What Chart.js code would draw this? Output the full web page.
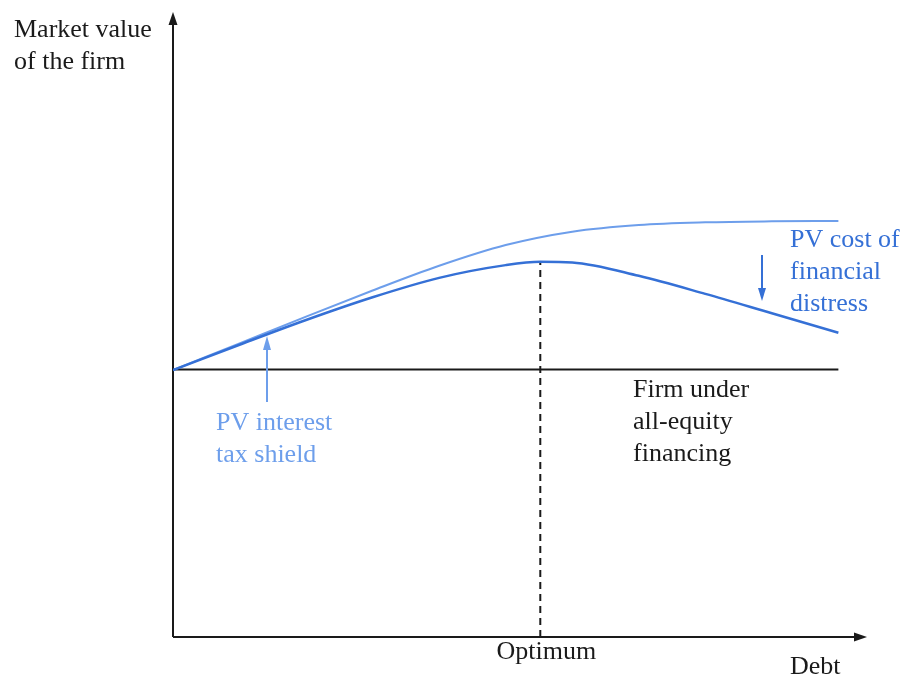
<!DOCTYPE html>
<html>
<head>
<meta charset="utf-8">
<script src="https://cdn.jsdelivr.net/npm/chart.js@4/dist/chart.umd.min.js"></script>
<style>
  html, body { margin: 0; padding: 0; background: #ffffff; }
  #wrap { width: 906px; height: 679px; }
</style>
</head>
<body>
<div id="wrap"><canvas id="c" width="906" height="679"></canvas></div>
<script>
// ---- data (Debt on x, Market value of the firm on y, abstract units) ----
const debtMax = 10.4;
const valueMax = 9.3;
const allEquityValue = 4.0;
const optimumDebt = 5.52;

const leveredNoCostX = [0, 1, 2, 3, 4, 5, 6, 7, 8, 9, 10];
const leveredNoCostY = [3.99, 4.39, 4.79, 5.18, 5.55, 5.86, 6.06, 6.16, 6.20, 6.215, 6.22];

const leveredX = [0, 1, 2, 3, 4, 5, 5.52, 6, 7, 8, 9, 10];
const leveredY = [3.99, 4.37, 4.74, 5.08, 5.37, 5.56, 5.61, 5.60, 5.40, 5.13, 4.84, 4.55];

const allEquityX = [0, 10.0];

const labels = {
  yTitle: ["Market value", "of the firm"],
  xTitle: "Debt",
  optimum: "Optimum",
  taxShield: ["PV interest", "tax shield"],
  distress: ["PV cost of", "financial", "distress"],
  allEquity: ["Firm under", "all-equity", "financing"]
};

const LIGHT = '#6d9eeb';
const DARK = '#3570d6';
const INK = '#1a1a1a';

const pts = (xs, ys) => xs.map((x, i) => ({ x: x, y: ys[i] }));

function arrowHead(ctx, x, y, dir, len, half, color) {
  ctx.save();
  ctx.fillStyle = color;
  ctx.beginPath();
  if (dir === 'up') { ctx.moveTo(x, y); ctx.lineTo(x - half, y + len); ctx.lineTo(x + half, y + len); }
  else if (dir === 'down') { ctx.moveTo(x, y); ctx.lineTo(x - half, y - len); ctx.lineTo(x + half, y - len); }
  else { ctx.moveTo(x, y); ctx.lineTo(x - len, y - half); ctx.lineTo(x - len, y + half); }
  ctx.closePath();
  ctx.fill();
  ctx.restore();
}

const axesPlugin = {
  id: 'axesArrows',
  beforeDatasetsDraw(chart) {
    const { ctx } = chart;
    const xs = chart.scales.x, ys = chart.scales.y;
    const x0 = xs.getPixelForValue(0), y0 = ys.getPixelForValue(0);
    const xEnd = xs.getPixelForValue(debtMax), yTop = ys.getPixelForValue(valueMax);
    ctx.save();
    ctx.strokeStyle = INK;
    ctx.lineWidth = 2;
    ctx.beginPath();
    ctx.moveTo(x0, y0); ctx.lineTo(x0, yTop + 8);
    ctx.moveTo(x0, y0); ctx.lineTo(xEnd - 8, y0);
    ctx.stroke();
    ctx.restore();
    arrowHead(ctx, x0, yTop - 3, 'up', 13, 4.5, INK);
    arrowHead(ctx, xEnd + 2, y0, 'right', 13, 4.5, INK);
  },
  afterDatasetsDraw(chart) {
    const { ctx } = chart;
    const xs = chart.scales.x;
    const px = v => xs.getPixelForValue(v);
    ctx.save();
    ctx.textBaseline = 'middle';
    ctx.textAlign = 'left';
    ctx.font = "26px 'Liberation Serif', 'Times New Roman', serif";

    ctx.fillStyle = INK;
    labels.yTitle.forEach((t, i) => ctx.fillText(t, 14, 30 + i * 32));
    ctx.fillText(labels.xTitle, 790, 667);
    ctx.textAlign = 'center';
    ctx.fillText(labels.optimum, px(optimumDebt) + 6, 652);
    ctx.textAlign = 'left';
    labels.allEquity.forEach((t, i) => ctx.fillText(t, 633, 390 + i * 32));

    ctx.fillStyle = LIGHT;
    labels.taxShield.forEach((t, i) => ctx.fillText(t, 216, 423 + i * 32));
    ctx.fillStyle = DARK;
    labels.distress.forEach((t, i) => ctx.fillText(t, 790, 240 + i * 32));

    ctx.strokeStyle = LIGHT;
    ctx.lineWidth = 2;
    ctx.beginPath();
    ctx.moveTo(267, 402); ctx.lineTo(267, 348);
    ctx.stroke();
    arrowHead(ctx, 267, 336, 'up', 14, 4, LIGHT);

    ctx.strokeStyle = DARK;
    ctx.beginPath();
    ctx.moveTo(762, 255); ctx.lineTo(762, 290);
    ctx.stroke();
    arrowHead(ctx, 762, 301, 'down', 13, 4, DARK);
    ctx.restore();
  }
};

new Chart(document.getElementById('c'), {
  type: 'scatter',
  data: {
    datasets: [
      {
        label: 'Firm value with debt',
        data: pts(leveredX, leveredY),
        showLine: true,
        borderColor: DARK,
        borderWidth: 2.5,
        pointRadius: 0,
        cubicInterpolationMode: 'monotone',
        order: 1
      },
      {
        label: 'Firm value without distress costs',
        data: pts(leveredNoCostX, leveredNoCostY),
        showLine: true,
        borderColor: LIGHT,
        borderWidth: 2,
        pointRadius: 0,
        cubicInterpolationMode: 'monotone',
        order: 2
      },
      {
        label: 'All-equity',
        data: pts(allEquityX, [allEquityValue, allEquityValue]),
        showLine: true,
        borderColor: INK,
        borderWidth: 2,
        pointRadius: 0,
        order: 3
      },
      {
        label: 'Optimum',
        data: [{ x: optimumDebt, y: 0 }, { x: optimumDebt, y: leveredY[leveredX.indexOf(optimumDebt)] }],
        showLine: true,
        borderColor: INK,
        borderWidth: 2,
        borderDash: [7, 5],
        pointRadius: 0,
        order: 4
      }
    ]
  },
  options: {
    responsive: false,
    animation: false,
    layout: { padding: { left: 173, right: 41, top: 15, bottom: 42 } },
    plugins: { legend: { display: false }, tooltip: { enabled: false } },
    scales: {
      x: { type: 'linear', min: 0, max: debtMax, display: false },
      y: { type: 'linear', min: 0, max: valueMax, display: false }
    }
  },
  plugins: [axesPlugin]
});
</script>
</body>
</html>
